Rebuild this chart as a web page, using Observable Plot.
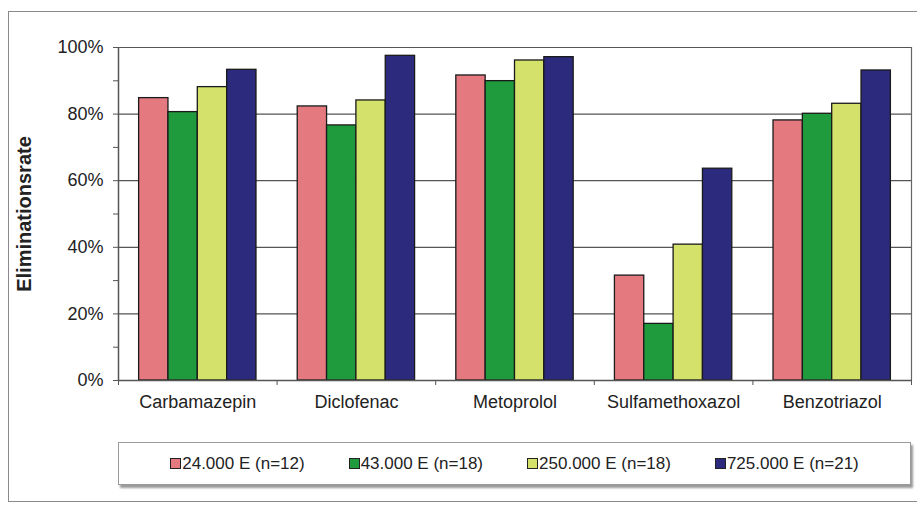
<!DOCTYPE html>
<html>
<head>
<meta charset="utf-8">
<script src="https://cdn.jsdelivr.net/npm/d3@7"></script>
<script src="https://cdn.jsdelivr.net/npm/@observablehq/plot@0.6"></script>
<style>
  html, body { margin: 0; padding: 0; background: #fff; }
  #wrap { position: relative; width: 917px; height: 509px; overflow: hidden; background: #fff;
          font-family: "Liberation Sans", Arial, sans-serif; }
  #outer { position: absolute; left: 8px; top: 11px; width: 915px; height: 491px;
           border: 1.5px solid #8a8a8a; box-sizing: border-box; }
  #chart { position: absolute; left: 0; top: 0; }
  #chart svg [aria-label="y-axis label"] text, #chart svg [aria-label="y-axis label"] { font-weight: bold; font-size: 20px; }
  #legend { position: absolute; left: 118px; top: 442px; width: 793px; height: 43px;
            border: 1px solid #9a9a9a; box-sizing: border-box; background: #fff;
            box-shadow: 2px 3px 2px #9a9a9a;
            display: flex; justify-content: center; align-items: center; gap: 44px;
            font-size: 17px; color: #222; }
  .item { display: flex; align-items: center; white-space: nowrap; }
  .sw { width: 9px; height: 9px; border: 1.5px solid #222; box-sizing: content-box; margin-right: 1px; }
</style>
</head>
<body>
<div id="wrap">
  <div id="outer"></div>
  <div id="chart"></div>
  <div id="legend"></div>
</div>
<script>
const categories = ["Carbamazepin", "Diclofenac", "Metoprolol", "Sulfamethoxazol", "Benzotriazol"];
const seriesNames = ["24.000 E (n=12)", "43.000 E (n=18)", "250.000 E (n=18)", "725.000 E (n=21)"];
const s24000 = [84.8, 82.3, 91.6, 31.5, 78.1];
const s43000 = [80.6, 76.6, 89.9, 17.0, 80.1];
const s250000 = [88.1, 84.1, 96.1, 40.8, 83.1];
const s725000 = [93.3, 97.5, 97.1, 63.6, 93.1];
const seriesColors = ["#e47a80", "#1f9a3d", "#d4e26b", "#2b2a7c"];
const yTicks = [0, 10, 20, 30, 40, 50, 60, 70, 80, 90, 100];
const yGrid = [20, 40, 60, 80, 100];

const allSeries = [s24000, s43000, s250000, s725000];
const groupFraction = 0.74;
const barW = groupFraction / seriesNames.length;
const rows = [];
allSeries.forEach((vals, j) => {
  vals.forEach((v, i) => {
    const x1 = i - groupFraction / 2 + j * barW;
    rows.push({category: categories[i], series: seriesNames[j], value: v, x1, x2: x1 + barW});
  });
});
const catIdx = categories.map((c, i) => i);
const boundaries = categories.map((c, i) => i - 0.5).concat([categories.length - 0.5]);

const chart = Plot.plot({
  width: 917,
  height: 509,
  marginLeft: 118,
  marginRight: 6,
  marginTop: 47,
  marginBottom: 129,
  style: {fontFamily: '"Liberation Sans", Arial, sans-serif', fontSize: "17px", color: "#222", background: "transparent"},
  x: {type: "linear", domain: [-0.5, categories.length - 0.5], axis: null},
  y: {domain: [0, 100], axis: null},
  color: {domain: seriesNames, range: seriesColors},
  marks: [
    Plot.ruleY(yGrid, {stroke: "#555", strokeWidth: 1.2}),
    Plot.rectY(rows, {x1: "x1", x2: "x2", y: "value", fill: "series", stroke: "#1a1a1a", strokeWidth: 1.3}),
    Plot.ruleY([0], {stroke: "#555", strokeWidth: 1.5}),
    Plot.ruleX([boundaries[0]], {y1: 0, y2: 100, stroke: "#555", strokeWidth: 1.5}),
    Plot.ruleX([boundaries[boundaries.length - 1]], {y1: 0, y2: 100, stroke: "#666", strokeWidth: 1.2}),
    Plot.axisY({ticks: yTicks, tickSize: 5, tickPadding: 10, stroke: "#555",
                tickFormat: d => (d % 20 === 0 ? d + "%" : ""),
                label: "Eliminationsrate", labelAnchor: "center", labelArrow: "none", labelOffset: 102,
                fontSize: 18}),
    Plot.axisX({ticks: boundaries, tickSize: 5, tickFormat: () => "", stroke: "#555", label: null}),
    Plot.axisX({ticks: catIdx, tickSize: 0, tickPadding: 15, tickFormat: i => categories[i], label: null, fontSize: 18})
  ]
});
document.getElementById("chart").appendChild(chart);

const legend = document.getElementById("legend");
seriesNames.forEach((name, j) => {
  const item = document.createElement("div");
  item.className = "item";
  const sw = document.createElement("span");
  sw.className = "sw";
  sw.style.background = seriesColors[j];
  const label = document.createElement("span");
  label.textContent = name;
  item.appendChild(sw);
  item.appendChild(label);
  legend.appendChild(item);
});
</script>
</body>
</html>
